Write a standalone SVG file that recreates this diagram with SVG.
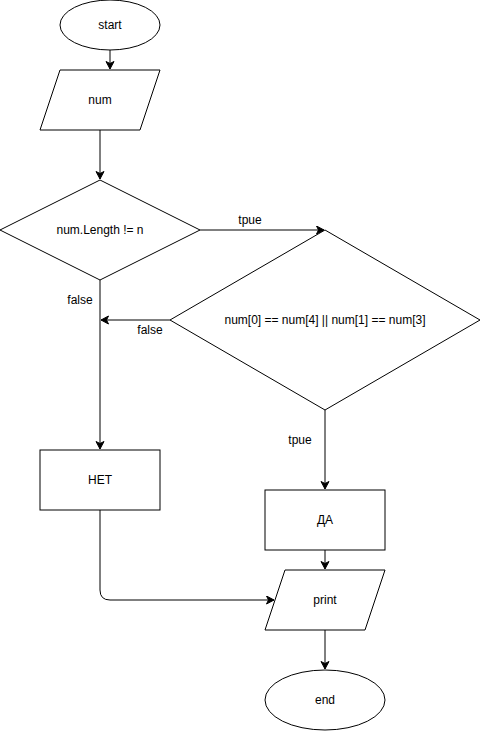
<svg xmlns="http://www.w3.org/2000/svg" width="481" height="731" viewBox="0 0 481 731">
<style>
.s{fill:#fff;stroke:#000;stroke-width:1}
.c{fill:none;stroke:#000;stroke-width:1}
text{font-family:"Liberation Sans",Arial,sans-serif;font-size:12px;fill:#000}
.m{text-anchor:middle;dominant-baseline:central}
</style>
<defs>
<marker id="a" markerWidth="10" markerHeight="10" refX="8" refY="4.5" orient="auto" markerUnits="userSpaceOnUse">
<path d="M0.5,0.5 L8,4.5 L0.5,8.5 L2.5,4.5 Z" fill="#000" stroke="#000" stroke-width="1"/>
</marker>
</defs>
<rect width="481" height="731" fill="#fff"/>
<g id="connectors">
<path class="c" d="M110 50 L110 69" marker-end="url(#a)"/>
<path class="c" d="M100 130 L100 179" marker-end="url(#a)"/>
<path class="c" d="M200 230 L324 230" marker-end="url(#a)"/>
<text class="m" x="250" y="220">tpue</text>
<path class="c" d="M100 280 L100 449" marker-end="url(#a)"/>
<text class="m" x="80" y="300">false</text>
<path class="c" d="M170 320 L101 320" marker-end="url(#a)"/>
<text class="m" x="150" y="330">false</text>
<path class="c" d="M325 410 L325 489" marker-end="url(#a)"/>
<text class="m" x="300" y="440">tpue</text>
<path class="c" d="M325 550 L325 569" marker-end="url(#a)"/>
<path class="c" d="M100 510 L100 590 Q100 600 110 600 L274 600" marker-end="url(#a)"/>
<path class="c" d="M325 630 L325 669" marker-end="url(#a)"/>
</g>
<g id="start">
<ellipse class="s" cx="110" cy="25" rx="50" ry="25"/>
<text class="m" x="110" y="25">start</text>
</g>
<g id="num">
<polygon class="s" points="60,70 160,70 140,130 40,130"/>
<text class="m" x="100" y="100">num</text>
</g>
<g id="cond1">
<polygon class="s" points="100,180 200,230 100,280 0,230"/>
<text class="m" x="100" y="230">num.Length != n</text>
</g>
<g id="cond2">
<polygon class="s" points="325,230 480,320 325,410 170,320"/>
<text class="m" x="325" y="320">num[0] == num[4] || num[1] == num[3]</text>
</g>
<g id="net">
<rect class="s" x="40" y="450" width="120" height="60"/>
<text class="m" x="100" y="480">НЕТ</text>
</g>
<g id="da">
<rect class="s" x="265" y="490" width="120" height="60"/>
<text class="m" x="325" y="520">ДА</text>
</g>
<g id="print">
<polygon class="s" points="285,570 385,570 365,630 265,630"/>
<text class="m" x="325" y="600">print</text>
</g>
<g id="end">
<ellipse class="s" cx="325" cy="700" rx="60" ry="30"/>
<text class="m" x="325" y="700">end</text>
</g>
</svg>
